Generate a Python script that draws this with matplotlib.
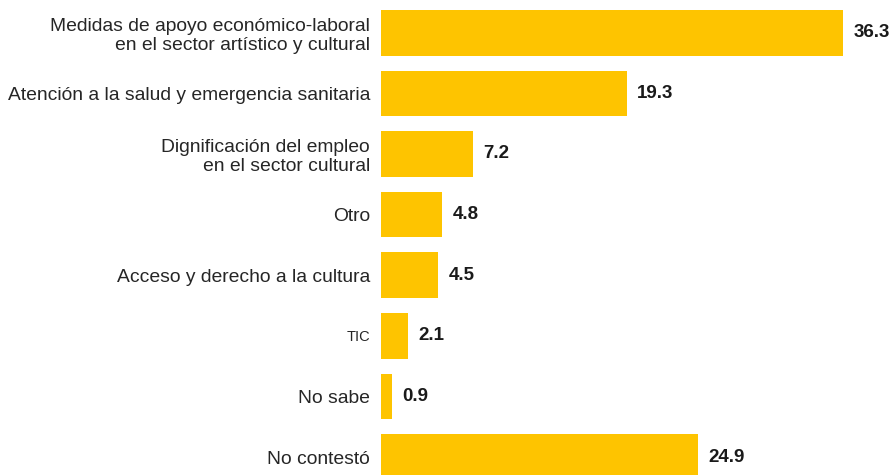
import matplotlib.pyplot as plt

categories = [
    'Medidas de apoyo económico-laboral\nen el sector artístico y cultural',
    'Atención a la salud y emergencia sanitaria',
    'Dignificación del empleo\nen el sector cultural',
    'Otro',
    'Acceso y derecho a la cultura',
    'TIC',
    'No sabe',
    'No contestó',
]
values = [36.3, 19.3, 7.2, 4.8, 4.5, 2.1, 0.9, 24.9]

plt.rcParams['font.family'] = ['Liberation Sans', 'DejaVu Sans']

fig = plt.figure(figsize=(8.94, 4.75), dpi=100)
ax = fig.add_axes([381 / 894, 0, 513 / 894, 1])

pos = list(range(len(values)))
ax.barh(pos, values, height=0.754, color='#FEC400')

ax.set_xlim(0, 40.3)
ax.set_ylim(7.297, -0.541)

for i, v in enumerate(values):
    ax.text(v + 0.8, i, f'{v}', va='center', ha='left',
            fontsize=13.5, fontweight='bold', color='#1a1a1a')

ax.set_yticks(pos)
ax.set_yticklabels(categories, fontsize=13.9, color='#262626', linespacing=1.15)
ax.get_yticklabels()[5].set_fontsize(10.5)
ax.tick_params(axis='y', length=0, pad=8)
ax.set_xticks([])
for s in ax.spines.values():
    s.set_visible(False)

plt.savefig('out.png', dpi=100)
